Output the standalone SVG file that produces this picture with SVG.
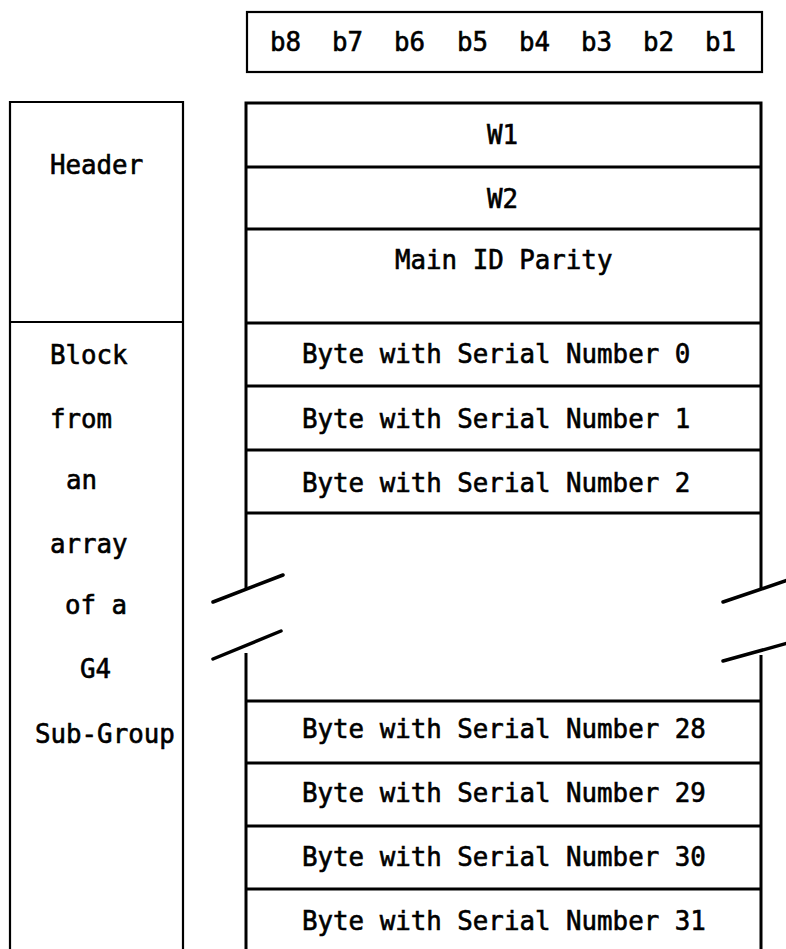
<svg xmlns="http://www.w3.org/2000/svg" width="786" height="949" viewBox="0 0 786 949">
<style>
.t{font-family:"DejaVu Sans Mono","Liberation Mono",monospace;font-size:25.8px;fill:#000;stroke:#000;stroke-width:0.6px;}
.b{fill:none;stroke:#000;stroke-width:3;}
.thin{fill:none;stroke:#000;stroke-width:2.2;}
.brk{fill:none;stroke:#000;stroke-width:3.5;stroke-linecap:round;}
</style>
<rect width="786" height="949" fill="#fff"/>
<g id="bits">
<rect class="thin" x="247" y="12" width="515" height="60"/>
<text class="t" x="270" y="51">b8</text>
<text class="t" x="332" y="51">b7</text>
<text class="t" x="394" y="51">b6</text>
<text class="t" x="457" y="51">b5</text>
<text class="t" x="519" y="51">b4</text>
<text class="t" x="581" y="51">b3</text>
<text class="t" x="643" y="51">b2</text>
<text class="t" x="705" y="51">b1</text>
</g>
<g id="left-column">
<path class="thin" d="M10,949 V102 H183 V949 M10,322 H183"/>
<text class="t" x="50" y="174">Header</text>
<text class="t" x="50" y="364">Block</text>
<text class="t" x="50" y="428">from</text>
<text class="t" x="66" y="489">an</text>
<text class="t" x="50" y="553">array</text>
<text class="t" x="65" y="614">of a</text>
<text class="t" x="80" y="678">G4</text>
<text class="t" x="35" y="743">Sub-Group</text>
</g>
<g id="main-frame">
<path class="b" d="M246,588 V103 H761 V589 M246,653 V949 M761,655 V949"/>
<path class="brk" d="M213,602 L283,575 M213,659 L281,631 M723,602 L788,580 M723,661 L788,643"/>
</g>
<g id="rows">
<path class="b" d="M246,167 H761 M246,229 H761 M246,323 H761 M246,386 H761 M246,450 H761 M246,513 H761 M246,701 H761 M246,763 H761 M246,826 H761 M246,889 H761"/>
<text class="t" x="487" y="144">W1</text>
<text class="t" x="487" y="208">W2</text>
<text class="t" x="395" y="269">Main ID Parity</text>
<text class="t" x="302" y="363">Byte with Serial Number 0</text>
<text class="t" x="302" y="428">Byte with Serial Number 1</text>
<text class="t" x="302" y="492">Byte with Serial Number 2</text>
<text class="t" x="302" y="738">Byte with Serial Number 28</text>
<text class="t" x="302" y="802">Byte with Serial Number 29</text>
<text class="t" x="302" y="866">Byte with Serial Number 30</text>
<text class="t" x="302" y="930">Byte with Serial Number 31</text>
</g>
</svg>
